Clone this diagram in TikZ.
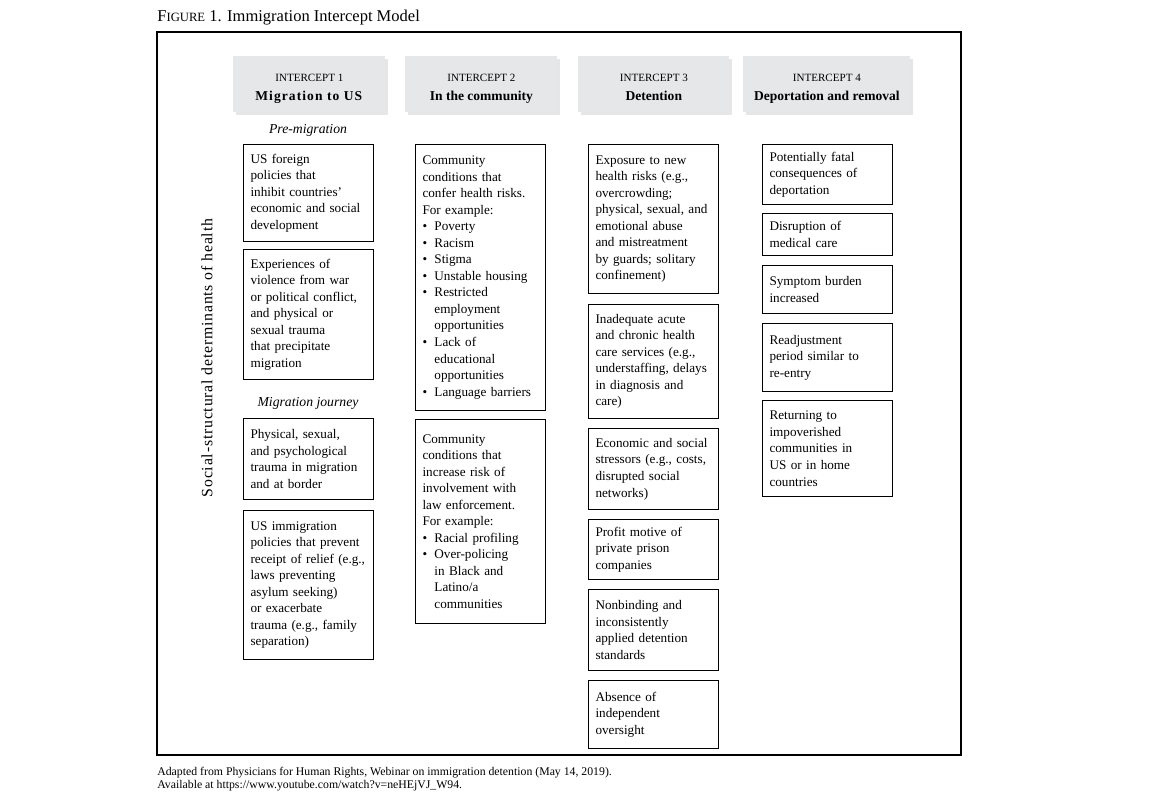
\documentclass[tikz,border=0pt]{standalone}
\usepackage{fontspec}
\setmainfont{Liberation Serif}
\usetikzlibrary{positioning, shadows}
\definecolor{headgray}{HTML}{E6E7E9}
\tikzset{
  cell/.style={rectangle, draw, line width=0.6pt, anchor=north west, align=left, inner xsep=0.14cm, inner ysep=0.08cm, text width=2.32cm, font=\fontsize{7.5}{9.4}\selectfont},
  head/.style={rectangle, fill=headgray, align=center, anchor=north west, minimum height=1.12cm, font=\fontsize{7.7}{10.8}\selectfont, drop shadow={shadow xshift=0.05cm, shadow yshift=-0.05cm, opacity=0.2}},
  phase/.style={font=\fontsize{7.8}{9}\selectfont\itshape}
}
\newcommand{\itm}{\makebox[6.8pt][l]{\textbullet}}
\newcommand{\ind}{\hspace*{6.8pt}}
\newcommand{\icpt}[1]{\rule{0pt}{10.5pt}{\fontsize{6.3}{10.8}\selectfont INTERCEPT #1}}

\begin{document}
\begin{tikzpicture}[x=0.02cm, y=-0.02cm]
\useasboundingbox (0,0) rectangle (1152,801);
\node[anchor=base west, inner sep=0pt, font=\fontsize{9.4}{11}\selectfont] (title) at (157,21) {F{\fontsize{7.2}{8}\selectfont IGURE} 1. Immigration Intercept Model};
\draw[line width=0.6pt] (157,32) rectangle (961,755);

% intercept headers
\node[head, minimum width=3.04cm] (h1) at (233,56) {\icpt{1}\\\textbf{\addfontfeature{LetterSpace=8}Migration to US}\strut};
\node[head, minimum width=3.04cm] (h2) at (405,56) {\icpt{2}\\\textbf{In the community}\strut};
\node[head, minimum width=3.02cm] (h3) at (578,56) {\icpt{3}\\\textbf{Detention}\strut};
\node[head, minimum width=3.34cm] (h4) at (743,56) {\icpt{4}\\\textbf{Deportation and removal}\strut};

\node[rotate=90, font=\fontsize{9}{10}\selectfont\addfontfeature{LetterSpace=5}] (sdoh) at (207,358) {Social-structural determinants of health};

% intercept 1
\node[phase] (pre) at (308,130) {Pre-migration};
\node[cell, minimum height=1.94cm] (c1a) at (243,144) {US foreign\\policies that\\inhibit countries'\\economic and social\\development};
\node[cell, minimum height=2.6cm, below=0.14cm of c1a] (c1b) {Experiences of\\violence from war\\or political conflict,\\and physical or\\sexual trauma\\that precipitate\\migration};
\node[phase] (jrn) at (308,403) {Migration journey};
\node[cell, minimum height=1.62cm] (c1c) at (243,418) {Physical, sexual,\\and psychological\\trauma in migration\\and at border};
\node[cell, minimum height=2.98cm, below=0.2cm of c1c] (c1d) {US immigration\\policies that prevent\\receipt of relief (e.g.,\\laws preventing\\asylum seeking)\\or exacerbate\\trauma (e.g., family\\separation)};

% intercept 2
\node[cell, minimum height=5.32cm] (c2a) at (415,144) {Community\\conditions that\\confer health risks.\\For example:\\\itm Poverty\\\itm Racism\\\itm Stigma\\\itm Unstable housing\\\itm Restricted\\\ind employment\\\ind opportunities\\\itm Lack of\\\ind educational\\\ind opportunities\\\itm Language barriers};
\node[cell, minimum height=4.08cm, below=0.16cm of c2a] (c2b) {Community\\conditions that\\increase risk of\\involvement with\\law enforcement.\\For example:\\\itm Racial profiling\\\itm Over-policing\\\ind in Black and\\\ind Latino/a\\\ind communities};

% intercept 3
\node[cell, minimum height=2.98cm] (c3a) at (588,144) {Exposure to new\\health risks (e.g.,\\overcrowding;\\physical, sexual, and\\emotional abuse\\and mistreatment\\by guards; solitary\\confinement)};
\node[cell, minimum height=2.28cm, below=0.2cm of c3a] (c3b) {Inadequate acute\\and chronic health\\care services (e.g.,\\understaffing, delays\\in diagnosis and\\care)};
\node[cell, minimum height=1.62cm, below=0.18cm of c3b] (c3c) {Economic and social\\stressors (e.g., costs,\\disrupted social\\networks)};
\node[cell, minimum height=1.2cm, below=0.18cm of c3c] (c3d) {Profit motive of\\private prison\\companies};
\node[cell, minimum height=1.62cm, below=0.18cm of c3d] (c3e) {Nonbinding and\\inconsistently\\applied detention\\standards};
\node[cell, minimum height=1.36cm, below=0.18cm of c3e] (c3f) {Absence of\\independent\\oversight};

% intercept 4
\node[cell, minimum height=1.2cm] (c4a) at (762,144) {Potentially fatal\\consequences of\\deportation};
\node[cell, minimum height=0.84cm, below=0.16cm of c4a] (c4b) {Disruption of\\medical care};
\node[cell, minimum height=0.96cm, below=0.18cm of c4b] (c4c) {Symptom burden\\increased};
\node[cell, minimum height=1.36cm, below=0.18cm of c4c] (c4d) {Readjustment\\period similar to\\re-entry};
\node[cell, minimum height=1.92cm, below=0.16cm of c4d] (c4e) {Returning to\\impoverished\\communities in\\US or in home\\countries};

\node[anchor=north west, inner sep=0pt, align=left, font=\fontsize{6.7}{7.4}\selectfont] (src) at (157,767) {Adapted from Physicians for Human Rights, Webinar on immigration detention (May 14, 2019).\\Available at https://www.youtube.com/watch?v=neHEjVJ\_W94.};
\end{tikzpicture}
\end{document}
